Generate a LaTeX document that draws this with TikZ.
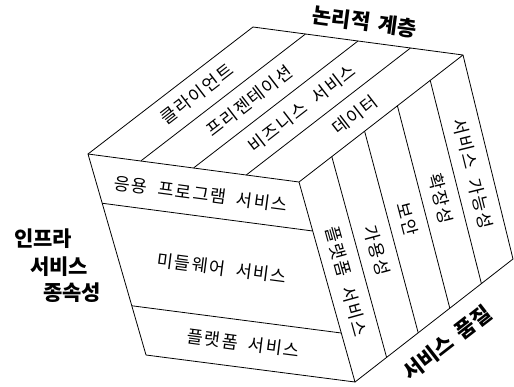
\documentclass[tikz,border=0pt]{standalone}
\usepackage{fontspec}
\setmainfont{Noto Sans CJK KR}[WordSpace=1.8]
\newfontfamily\krspaced[LetterSpace=8, WordSpace=2]{Noto Sans CJK KR}
\usetikzlibrary{calc}

\begin{document}
\begin{tikzpicture}[
  x=1pt,
  y=-1pt,
  edge/.style={line width=0.8pt, line join=round},
  lbl/.style={font=\krspaced\fontsize{17.5}{18}\selectfont, inner sep=0pt, sloped},
  title/.style={font=\bfseries\fontsize{21}{23}\selectfont, inner sep=0pt}
]
\useasboundingbox (0,0) rectangle (514,386);

% Kubus-Ecken (Pixelraster, y nach unten)
\coordinate (ftl) at (88,154);
\coordinate (ftr) at (299,182);
\coordinate (fbr) at (355,382);
\coordinate (fbl) at (146,355);
\coordinate (btl) at (253,27);
\coordinate (btr) at (463,55);
\coordinate (bbr) at (513,259);

% Umriss
\draw[edge] (ftl) -- (ftr) -- (fbr) -- (fbl) -- cycle;
\draw[edge] (ftl) -- (btl) -- (btr) -- (ftr);
\draw[edge] (btr) -- (bbr) -- (fbr);

% Deckfläche: logische Schichten
\draw[edge] ($(ftl)!0.25!(ftr)$) -- ($(btl)!0.25!(btr)$);
\draw[edge] ($(ftl)!0.50!(ftr)$) -- ($(btl)!0.50!(btr)$);
\draw[edge] ($(ftl)!0.75!(ftr)$) -- ($(btl)!0.75!(btr)$);

% Vorderseite: Infrastruktur
\draw[edge] ($(ftl)!0.245!(fbl)$) -- ($(ftr)!0.245!(fbr)$);
\draw[edge] ($(ftl)!0.755!(fbl)$) -- ($(ftr)!0.755!(fbr)$);

% rechte Seite: Dienstqualitaet
\draw[edge] ($(ftr)!0.2!(btr)$) -- ($(fbr)!0.2!(bbr)$);
\draw[edge] ($(ftr)!0.4!(btr)$) -- ($(fbr)!0.4!(bbr)$);
\draw[edge] ($(ftr)!0.6!(btr)$) -- ($(fbr)!0.6!(bbr)$);
\draw[edge] ($(ftr)!0.8!(btr)$) -- ($(fbr)!0.8!(bbr)$);

% Beschriftungen oben
\path ($(ftl)!0.125!(ftr)$) -- ($(btl)!0.125!(btr)$) node[lbl, midway] (client) {클라이언트};
\path ($(ftl)!0.375!(ftr)$) -- ($(btl)!0.375!(btr)$) node[lbl, midway] (present) {프리젠테이션};
\path ($(ftl)!0.625!(ftr)$) -- ($(btl)!0.625!(btr)$) node[lbl, midway] (business) {비즈니스 서비스};
\path ($(ftl)!0.875!(ftr)$) -- ($(btl)!0.875!(btr)$) node[lbl, midway] (data) {데이터};

% Beschriftungen vorne
\path ($(ftl)!0.13!(fbl)$) -- ($(ftr)!0.13!(fbr)$) node[lbl, midway] (appsvc) {응용 프로그램 서비스};
\path ($(ftl)!0.50!(fbl)$) -- ($(ftr)!0.50!(fbr)$) node[lbl, midway] (midsvc) {미들웨어 서비스};
\path ($(ftl)!0.875!(fbl)$) -- ($(ftr)!0.875!(fbr)$) node[lbl, midway] (platsvc) {플랫폼 서비스};

% Beschriftungen rechts
\path ($(ftr)!0.1!(btr)$) -- ($(fbr)!0.1!(bbr)$) node[lbl, pos=0.56] (platq) {플랫폼 서비스};
\path ($(ftr)!0.3!(btr)$) -- ($(fbr)!0.3!(bbr)$) node[lbl, pos=0.53] (avail) {가용성};
\path ($(ftr)!0.5!(btr)$) -- ($(fbr)!0.5!(bbr)$) node[lbl, pos=0.5] (secu) {보안};
\path ($(ftr)!0.7!(btr)$) -- ($(fbr)!0.7!(bbr)$) node[lbl, pos=0.52] (scale) {확장성};
\path ($(ftr)!0.9!(btr)$) -- ($(fbr)!0.9!(bbr)$) node[lbl, pos=0.52] (service) {서비스 가능성};

% Achsentitel
\node[title, rotate=-7.6] (layer) at (365,22) {논리적 계층};
\node[title, rotate=37.9] (quality) at (447,343) {서비스 품질};
\node[title] (infra) at (43,239) {인프라};
\node[title] (infsvc) at (59,267) {서비스};
\node[title] (depend) at (72,293) {종속성};

\end{tikzpicture}
\end{document}
